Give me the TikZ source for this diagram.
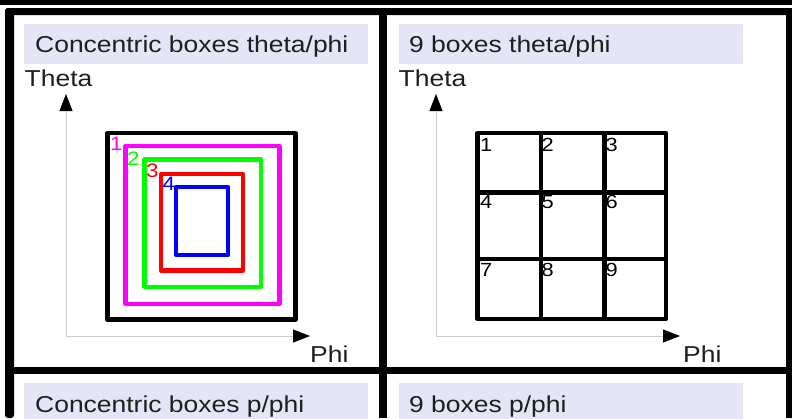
\documentclass[tikz,border=0pt]{standalone}
\usepackage{fontspec}
\setmainfont{Liberation Sans}
\newfontfamily\panelfont[FakeStretch=1.15]{Liberation Sans}
\usetikzlibrary{arrows.meta}
\definecolor{titlebg}{RGB}{229,229,248}
\definecolor{axisgray}{RGB}{205,205,205}
\definecolor{ringmagenta}{RGB}{255,0,255}
\definecolor{ringgreen}{RGB}{0,255,0}
\definecolor{ringred}{RGB}{255,0,0}
\definecolor{ringblue}{RGB}{0,0,255}

\begin{document}
\begin{tikzpicture}[x=1pt, y=-1pt,
    title/.style={fill=titlebg, draw=black!10, line width=0.8pt},
    head/.style={anchor=base west, inner sep=0pt, text=black!88, font=\panelfont\fontsize{23}{27}\selectfont},
    axis/.style={-{Triangle[length=17pt,width=13pt,color=black]}, draw=axisgray, line width=0.9pt},
    ring/.style={line width=4.2pt, line join=round},
    ringnum/.style={anchor=base west, inner sep=0pt, font=\panelfont\fontsize{19.5}{22}\selectfont},
    cellnum/.style={anchor=base west, inner sep=0pt, font=\panelfont\fontsize{19}{22}\selectfont}
  ]
    \useasboundingbox (0,0) rectangle (792,418);
    \fill[white] (0,0) rectangle (792,418);
    % frame of the panels
    \fill (0,0) rectangle (792,5);
    \fill[rounded corners=3pt] (5,8) rectangle (792,15);
    \fill[rounded corners=3pt] (5,8) rectangle (14,418);
    \fill (379,8) rectangle (387,418);
    \fill (786,8) rectangle (792,418);
    \fill (5,367) rectangle (792,374);
    % title bars
    \draw[title] (24,24) rectangle (367,63);
    \draw[title] (399,24) rectangle (742,63);
    \draw[title] (24,383) rectangle (367,425);
    \draw[title] (399,383) rectangle (742,425);
    \node[head] (tl) at (35,52) {Concentric boxes theta/phi};
    \node[head] (tr) at (409,52) {9 boxes theta/phi};
    \node[head] (bl) at (35,412) {Concentric boxes p/phi};
    \node[head] (br) at (409,412) {9 boxes p/phi};
    % left panel: axes
    \coordinate (ol) at (66,336);
    \coordinate (yl) at (66,94);
    \coordinate (xl) at (310,336);
    \draw[axis] (ol) -- (yl);
    \draw[axis] (ol) -- (xl);
    \node[head] (thetal) at (24.5,86) {Theta};
    \node[head] (phil) at (310,362) {Phi};
    % left panel: concentric boxes
    \draw[ring] (107.5,133) rectangle (295.5,319.5);
    \draw[ring, ringmagenta] (125.5,146) rectangle (279.5,304);
    \draw[ring, ringgreen] (144.5,159.5) rectangle (261,287);
    \draw[ring, ringred] (161,174) rectangle (243,270.5);
    \draw[ring, ringblue] (176,187) rectangle (228,255);
    \node[ringnum, ringmagenta] (r1) at (110,150) {1};
    \node[ringnum, ringgreen] (r2) at (127,165) {2};
    \node[ringnum, ringred] (r3) at (146,177) {3};
    \node[ringnum, ringblue] (r4) at (162.5,190) {4};
    % right panel: axes
    \coordinate (or) at (436,336);
    \coordinate (yr) at (436,94);
    \coordinate (xr) at (680,336);
    \draw[axis] (or) -- (yr);
    \draw[axis] (or) -- (xr);
    \node[head] (thetar) at (398.5,86) {Theta};
    \node[head] (phir) at (683,362) {Phi};
    % right panel: 3x3 grid
    \draw[ring] (477.5,133) rectangle (666,319);
    \draw[ring] (541,133) -- (541,319);
    \draw[ring] (604.5,133) -- (604.5,319);
    \draw[ring] (477.5,192.5) -- (666,192.5);
    \draw[ring] (477.5,259) -- (666,259);
    \node[cellnum] (c1) at (480,151) {1};
    \node[cellnum] (c2) at (541.5,151) {2};
    \node[cellnum] (c3) at (605.5,151) {3};
    \node[cellnum] (c4) at (480,208) {4};
    \node[cellnum] (c5) at (541.5,208) {5};
    \node[cellnum] (c6) at (605.5,208) {6};
    \node[cellnum] (c7) at (480,276) {7};
    \node[cellnum] (c8) at (541.5,276) {8};
    \node[cellnum] (c9) at (605.5,276) {9};
  \end{tikzpicture}
\end{document}
